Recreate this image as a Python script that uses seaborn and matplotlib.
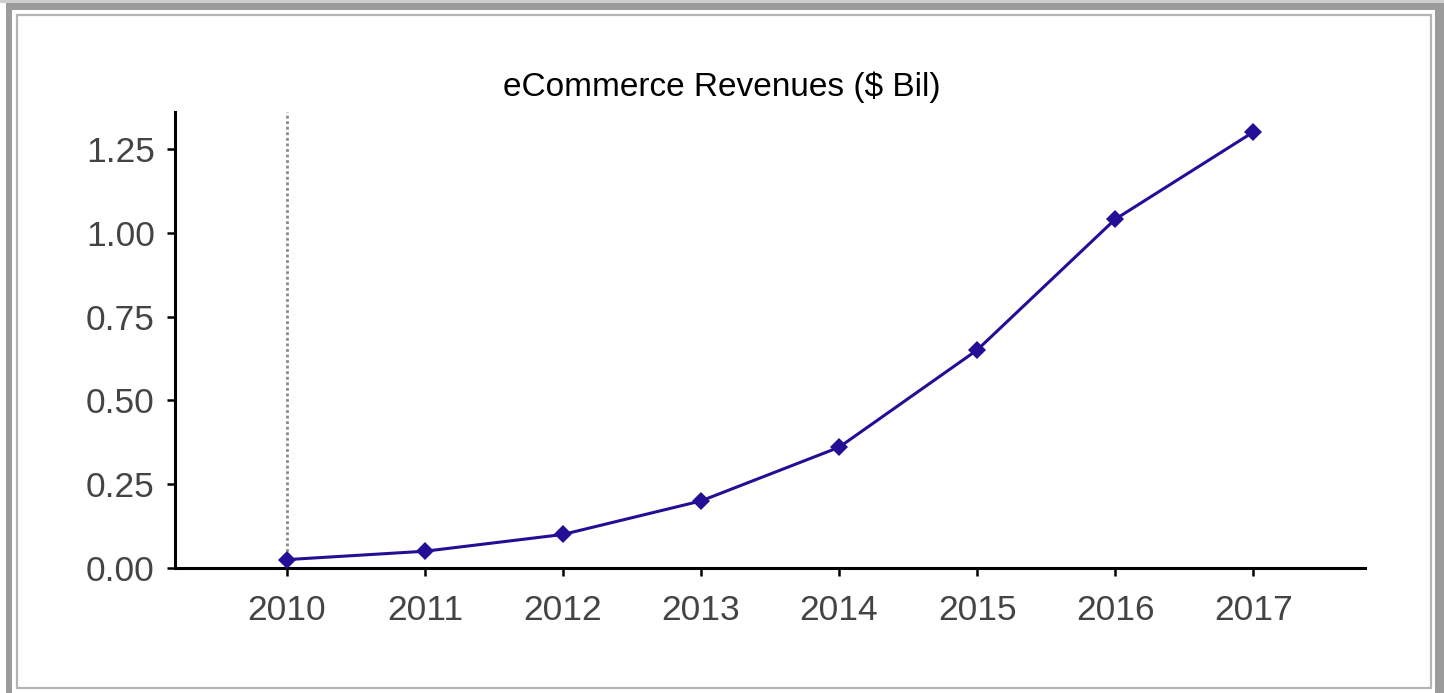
import matplotlib
matplotlib.use("Agg")
import matplotlib.pyplot as plt
from matplotlib.patches import Rectangle
from matplotlib.ticker import FormatStrFormatter
import seaborn as sns
import pandas as pd

years = [2010, 2011, 2012, 2013, 2014, 2015, 2016, 2017]
revenues = [0.025, 0.05, 0.10, 0.20, 0.36, 0.65, 1.04, 1.30]
y_ticks = [0.00, 0.25, 0.50, 0.75, 1.00, 1.25]
title_text = "eCommerce Revenues ($ Bil)"

sns.set_theme(style="ticks")
plt.rcParams["font.family"] = ["Liberation Sans", "DejaVu Sans"]

W, H = 1444, 693
fig = plt.figure(figsize=(W / 100, H / 100), dpi=100)
fig.patch.set_facecolor("white")

# page frame: heavy outer border and thin inner rule
def px_rect(x0, y0, x1, y1, **kw):
    return Rectangle((x0 / W, 1 - y1 / H), (x1 - x0) / W, (y1 - y0) / H,
                     transform=fig.transFigure, **kw)

gray = "#9b9b9b"
fig.patches.append(px_rect(0, 0, W, 3, facecolor="#cfcfcf", edgecolor="none"))
fig.patches.append(px_rect(6, 3, W, 10, facecolor=gray, edgecolor="none"))
fig.patches.append(px_rect(6, 3, 12, H, facecolor=gray, edgecolor="none"))
fig.patches.append(px_rect(1435, 3, W, H, facecolor=gray, edgecolor="none"))
fig.patches.append(px_rect(17, 15, 1431, 688, facecolor="none",
                           edgecolor="#b4b4b4", linewidth=1.6))

ax = fig.add_axes([175 / W, 1 - 568 / H, (1365 - 175) / W, (568 - 112) / H])
ax.set_facecolor("white")

df = pd.DataFrame({"year": years, "revenue": revenues})
ax.axvline(years[0], color="#8a8a8a", linestyle=(0, (1, 1)), linewidth=2.0, zorder=1)
sns.lineplot(data=df, x="year", y="revenue", ax=ax, color="#230f96",
             linewidth=2.2, marker="D", markersize=9.5, markeredgewidth=0,
             zorder=3)

ax.set_xlim(2009.19, 2017.81)
ax.set_ylim(0, 1.36)
ax.set_xticks(years)
ax.set_yticks(y_ticks)
ax.yaxis.set_major_formatter(FormatStrFormatter("%.2f"))
ax.set_xlabel("")
ax.set_ylabel("")

for side in ("top", "right"):
    ax.spines[side].set_visible(False)
for side in ("left", "bottom"):
    ax.spines[side].set_linewidth(2.2)
    ax.spines[side].set_color("black")

ax.tick_params(axis="both", length=5.5, width=1.8, color="black",
               labelsize=25.5, labelcolor="#444444")
ax.tick_params(axis="y", pad=9)
ax.tick_params(axis="x", pad=13)

fig.text(0.5 * (498 + 945) / W, 1 - 87 / H, title_text, ha="center", va="center",
         fontsize=24, color="black")

fig.savefig("out.png", dpi=100, facecolor="white")
